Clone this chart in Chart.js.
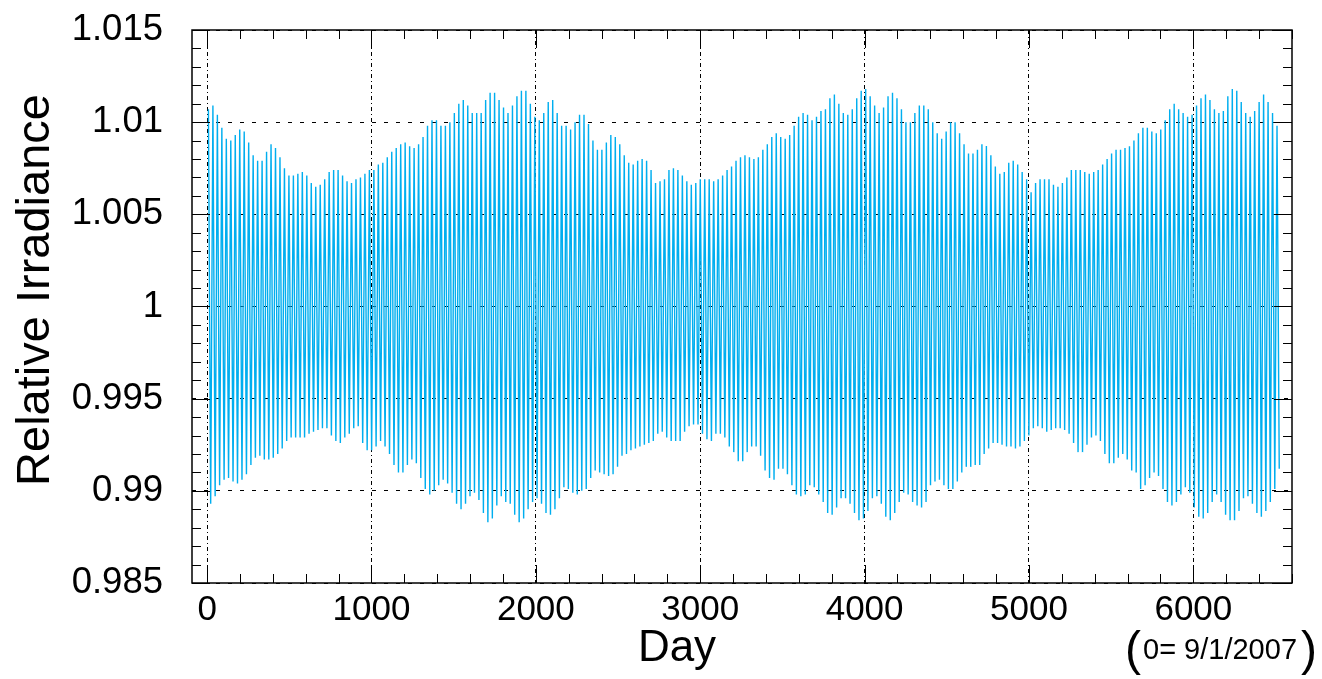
<!DOCTYPE html>
<html lang="en">
<head>
<meta charset="UTF-8">
<title>Relative Irradiance</title>
<script src="https://cdn.jsdelivr.net/npm/chart.js@4.4.1/dist/chart.umd.min.js"></script>
<style>
  html, body { margin: 0; padding: 0; background: #fff; }
  #wrap { width: 1322px; height: 679px; }
</style>
</head>
<body>
<div id="wrap"><canvas id="irr" width="1322" height="679"></canvas></div>
<script>
// maxima of each ~27 day rotation
var peaks = [
  1.0107, 1.0109, 1.0104, 1.0097, 1.0091, 1.0090, 1.0093, 1.0096, 1.0095, 1.0089,
  1.0082, 1.0079, 1.0079, 1.0084, 1.0088, 1.0086, 1.0081, 1.0075, 1.0071, 1.0071,
  1.0072, 1.0073, 1.0071, 1.0067, 1.0065, 1.0066, 1.0069, 1.0073, 1.0074, 1.0074,
  1.0071, 1.0068, 1.0067, 1.0069, 1.0070, 1.0072, 1.0074, 1.0074,
  1.0077, 1.0078, 1.0081, 1.0084, 1.0086, 1.0088, 1.0089, 1.0087, 1.0086, 1.0088,
  1.0092, 1.0098, 1.0101, 1.0101, 1.0098, 1.0098, 1.0100, 1.0105, 1.0110, 1.0112,
  1.0109, 1.0105, 1.0105, 1.0105, 1.0112, 1.0116, 1.0116, 1.0112, 1.0108, 1.0105,
  1.0109, 1.0114, 1.0117, 1.0117, 1.0110, 1.0103, 1.0101, 1.0105, 1.0111, 1.0112,
  1.0105,
  1.0098, 1.0098, 1.0096, 1.0100, 1.0104, 1.0104, 1.0099, 1.0090, 1.0085, 1.0085,
  1.0089, 1.0093, 1.0092, 1.0088, 1.0082, 1.0078, 1.0077, 1.0079, 1.0080, 1.0079,
  1.0074, 1.0067, 1.0068, 1.0069, 1.0074, 1.0075, 1.0074, 1.0071, 1.0068, 1.0066,
  1.0067, 1.0069, 1.0069, 1.0069, 1.0068, 1.0069, 1.0071, 1.0074, 1.0076, 1.0079,
  1.0081, 1.0082,
  1.0081, 1.0080, 1.0081, 1.0085, 1.0088, 1.0092, 1.0094, 1.0092, 1.0091, 1.0093,
  1.0098, 1.0103, 1.0105, 1.0104, 1.0101, 1.0103, 1.0106, 1.0107, 1.0113, 1.0115,
  1.0110, 1.0105, 1.0104, 1.0107, 1.0113, 1.0117, 1.0118, 1.0114, 1.0109, 1.0105,
  1.0108, 1.0114, 1.0116, 1.0113, 1.0107, 1.0100, 1.0100, 1.0105, 1.0109, 1.0109,
  1.0107,
  1.0100, 1.0094, 1.0091, 1.0095, 1.0100, 1.0100, 1.0094, 1.0088, 1.0083, 1.0083,
  1.0085, 1.0088, 1.0087, 1.0082, 1.0076, 1.0072, 1.0073, 1.0078, 1.0079, 1.0077,
  1.0073, 1.0069, 1.0062, 1.0067, 1.0069, 1.0069, 1.0069, 1.0066, 1.0065, 1.0067,
  1.0070, 1.0074, 1.0074, 1.0074, 1.0073, 1.0072, 1.0073, 1.0074, 1.0077, 1.0080,
  1.0083,
  1.0085, 1.0085, 1.0086, 1.0087, 1.0090, 1.0094, 1.0097, 1.0097, 1.0095, 1.0094,
  1.0096, 1.0101, 1.0107, 1.0110, 1.0107, 1.0105, 1.0103, 1.0104, 1.0109, 1.0113,
  1.0115, 1.0112, 1.0107, 1.0105, 1.0106, 1.0114, 1.0118, 1.0117, 1.0111, 1.0105,
  1.0103, 1.0106, 1.0111, 1.0115, 1.0111, 1.0105, 1.0098
];
// minima, one after each maximum
var troughs = [
  0.9893, 0.9897, 0.9903, 0.9906, 0.9907, 0.9905, 0.9904, 0.9906, 0.9909, 0.9914,
  0.9918, 0.9919, 0.9917, 0.9917, 0.9918, 0.9920, 0.9923, 0.9927, 0.9929, 0.9929,
  0.9929, 0.9929, 0.9931, 0.9932, 0.9933, 0.9934, 0.9934, 0.9930, 0.9927, 0.9926,
  0.9929, 0.9931, 0.9934, 0.9935, 0.9926, 0.9922, 0.9922,
  0.9924, 0.9927, 0.9924, 0.9920, 0.9914, 0.9910, 0.9910, 0.9914, 0.9917, 0.9915,
  0.9907, 0.9901, 0.9898, 0.9900, 0.9903, 0.9906, 0.9904, 0.9899, 0.9893, 0.9890,
  0.9893, 0.9897, 0.9899, 0.9895, 0.9888, 0.9883, 0.9885, 0.9892, 0.9897, 0.9894,
  0.9893, 0.9887, 0.9883, 0.9885, 0.9890, 0.9894, 0.9896, 0.9893, 0.9888, 0.9887,
  0.9890, 0.9896,
  0.9902, 0.9901, 0.9899, 0.9898, 0.9900, 0.9901, 0.9907, 0.9911, 0.9910, 0.9909,
  0.9908, 0.9909, 0.9913, 0.9919, 0.9920, 0.9922, 0.9923, 0.9924, 0.9925, 0.9926,
  0.9927, 0.9931, 0.9932, 0.9929, 0.9927, 0.9927, 0.9927, 0.9932, 0.9935, 0.9936,
  0.9936, 0.9931, 0.9928, 0.9927, 0.9931, 0.9931, 0.9929, 0.9924, 0.9921, 0.9916,
  0.9916,
  0.9921, 0.9924, 0.9924, 0.9919, 0.9911, 0.9907, 0.9906, 0.9912, 0.9912, 0.9909,
  0.9903, 0.9898, 0.9897, 0.9898, 0.9903, 0.9902, 0.9898, 0.9894, 0.9888, 0.9887,
  0.9891, 0.9896, 0.9896, 0.9893, 0.9888, 0.9884, 0.9885, 0.9889, 0.9896, 0.9897,
  0.9893, 0.9886, 0.9884, 0.9888, 0.9894, 0.9899, 0.9898, 0.9894, 0.9892, 0.9891,
  0.9894, 0.9903,
  0.9905, 0.9906, 0.9903, 0.9901, 0.9901, 0.9905, 0.9910, 0.9913, 0.9913, 0.9914,
  0.9914, 0.9920, 0.9923, 0.9926, 0.9926, 0.9925, 0.9924, 0.9924, 0.9923, 0.9924,
  0.9927, 0.9930, 0.9934, 0.9935, 0.9934, 0.9932, 0.9933, 0.9934, 0.9934, 0.9933,
  0.9931, 0.9926, 0.9921, 0.9921, 0.9925, 0.9929, 0.9930, 0.9927, 0.9920, 0.9915,
  0.9915,
  0.9918, 0.9920, 0.9917, 0.9911, 0.9910, 0.9901, 0.9903, 0.9907, 0.9910, 0.9908,
  0.9901, 0.9894, 0.9892, 0.9894, 0.9898, 0.9902, 0.9899, 0.9891, 0.9886, 0.9885,
  0.9888, 0.9894, 0.9898, 0.9894, 0.9887, 0.9884, 0.9884, 0.9889, 0.9896, 0.9897,
  0.9893, 0.9888, 0.9886, 0.9889, 0.9894, 0.9901, 0.9912
];
var firstDay = 8;      // day of the first maximum
var cycleDays = 27.2;  // one solar rotation

var xTicks = [0, 1000, 2000, 3000, 4000, 5000, 6000];
var yTicks = [0.985, 0.99, 0.995, 1, 1.005, 1.01, 1.015];
var yLabels = ['0.985', '0.99', '0.995', '1', '1.005', '1.01', '1.015'];

var points = [];
for (var i = 0; i < peaks.length; i++) {
  points.push({ x: firstDay + i * cycleDays, y: peaks[i] });
  points.push({ x: firstDay + (i + 0.5) * cycleDays, y: troughs[i] });
}

var FONT = 'Liberation Sans, Arial, Helvetica, sans-serif';

// frame, inner ticks and the texts around the frame
var frame = {
  id: 'frame',
  afterDraw: function(chart) {
    var c = chart.ctx, a = chart.chartArea;
    var xs = chart.scales.x, ys = chart.scales.y;
    c.save();
    c.strokeStyle = '#000';
    c.lineWidth = 1;
    c.beginPath();
    for (var v = 0.985; v <= 1.0151; v += 0.001) {
      var y = Math.round(ys.getPixelForValue(v)) + 0.5;
      var major = Math.abs(v * 200 - Math.round(v * 200)) < 1e-6;
      var len = major ? 18 : 9;
      c.moveTo(a.left, y); c.lineTo(a.left + len, y);
      c.moveTo(a.right, y); c.lineTo(a.right - len, y);
    }
    for (var d = 0; d <= xs.max; d += 200) {
      var x = Math.round(xs.getPixelForValue(d)) + 0.5;
      var len2 = d % 1000 === 0 ? 18 : 9;
      c.moveTo(x, a.bottom); c.lineTo(x, a.bottom - len2);
      c.moveTo(x, a.top); c.lineTo(x, a.top + len2);
    }
    c.stroke();
    c.lineWidth = 1.5;
    c.strokeRect(a.left, a.top, a.right - a.left, a.bottom - a.top);

    c.fillStyle = '#000';
    c.textBaseline = 'alphabetic';
    c.font = '44px ' + FONT;
    c.textAlign = 'center';
    c.fillText('Day', 677, 661);
    c.save();
    c.translate(49, 290);
    c.rotate(-Math.PI / 2);
    c.font = '47px ' + FONT;
    c.fillText('Relative Irradiance', 0, 0);
    c.restore();

    c.textAlign = 'left';
    c.font = '48px ' + FONT;
    c.fillText('(', 1125, 665);
    c.fillText(')', 1301, 665);
    c.font = '29px ' + FONT;
    c.fillText('0= 9/1/2007', 1143, 659);
    c.restore();
  }
};

new Chart(document.getElementById('irr'), {
  type: 'line',
  data: {
    datasets: [{
      data: points,
      borderColor: '#00aeef',
      borderWidth: 1.4,
      pointRadius: 0,
      tension: 0,
      fill: false
    }]
  },
  options: {
    responsive: false,
    animation: false,
    layout: { padding: { left: 0, right: 30, top: 30, bottom: 0 } },
    plugins: { legend: { display: false }, tooltip: { enabled: false } },
    scales: {
      x: {
        type: 'linear',
        min: -92,
        max: 6600,
        z: 1,
        afterFit: function(s) { s.height = 96; s.paddingLeft = 0; s.paddingRight = 0; },
        afterBuildTicks: function(s) { s.ticks = xTicks.map(function(v) { return { value: v }; }); },
        grid: { color: '#000', lineWidth: 1, drawTicks: false },
        border: { display: false, dash: [4, 3, 1, 3] },
        ticks: {
          color: '#000',
          padding: 6,
          maxRotation: 0,
          font: { family: FONT, size: 35 },
          callback: function(v) { return String(v); }
        }
      },
      y: {
        type: 'linear',
        min: 0.985,
        max: 1.015,
        z: 1,
        afterFit: function(s) { s.width = 192; s.paddingTop = 0; s.paddingBottom = 0; },
        afterBuildTicks: function(s) { s.ticks = yTicks.map(function(v) { return { value: v }; }); },
        grid: { color: '#000', lineWidth: 1, drawTicks: false },
        border: { display: false, dash: [4, 8] },
        ticks: {
          color: '#000',
          padding: 29,
          font: { family: FONT, size: 36.5 },
          callback: function(v, i) { return yLabels[i]; }
        }
      }
    }
  },
  plugins: [frame]
});
</script>
</body>
</html>
